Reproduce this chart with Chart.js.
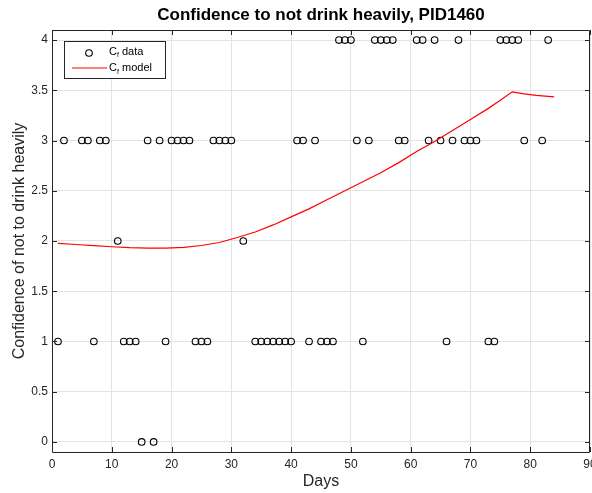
<!DOCTYPE html>
<html>
<head>
<meta charset="utf-8">
<script src="https://cdn.jsdelivr.net/npm/chart.js@4"></script>
<style>
  html, body { margin: 0; padding: 0; background: #fff; }
  #wrap { width: 592px; height: 493px; }
</style>
</head>
<body>
<div id="wrap"><canvas id="chart" width="592" height="493"></canvas></div>
<script>
// observed confidence (days / value)
const obsDays = [1,2,5,6,7,8,9,11,12,13,14,15,16,17,18,19,20,21,22,23,24,25,26,27,28,29,30,32,34,35,36,37,38,39,40,41,42,43,44,45,46,47,48,49,50,51,52,53,54,55,56,57,58,59,61,62,63,64,65,66,67,68,69,70,71,73,74,75,76,77,78,79,82,83];
const obsValues = [1,3,3,3,1,3,3,2,1,1,1,0,3,0,3,1,3,3,3,3,1,1,1,3,3,3,3,2,1,1,1,1,1,1,1,3,3,1,3,1,1,1,4,4,4,3,1,3,4,4,4,4,3,3,4,4,3,4,3,1,3,4,3,3,3,1,1,4,4,4,4,3,3,4];

// model curve
const modelDays = [1,4,7,10,13,16,19,22,25,28,31,34,37,40,43,46,49,52,55,58,61,64,67,70,73,75,77,79,81,84];
const modelValues = [1.977,1.965,1.953,1.943,1.934,1.929,1.929,1.937,1.955,1.985,2.035,2.09,2.16,2.24,2.32,2.41,2.5,2.59,2.68,2.78,2.89,2.99,3.1,3.21,3.32,3.4,3.485,3.465,3.45,3.435];

const xTicks = [0,10,20,30,40,50,60,70,80,90];
const yTicks = [0,0.5,1,1.5,2,2.5,3,3.5,4];

const TITLE = "Confidence to not drink heavily, PID1460";
const FONT = "'Liberation Sans', Arial, Helvetica, sans-serif";
const AXIS_COLOR = "#262626";

// box round the axes with inward ticks, like matlab
const boxPlugin = {
  id: "box",
  afterDatasetsDraw(chart) {
    const { ctx, chartArea: a, scales } = chart;
    ctx.save();
    ctx.strokeStyle = AXIS_COLOR;
    ctx.lineWidth = 1;
    ctx.beginPath();
    ctx.rect(a.left + 0.5, a.top + 0.5, a.right - a.left - 1, a.bottom - a.top);
    xTicks.forEach((v) => {
      const px = Math.round(scales.x.getPixelForValue(v)) + 0.5;
      ctx.moveTo(px, a.bottom);
      ctx.lineTo(px, a.bottom - 5);
      ctx.moveTo(px, a.top);
      ctx.lineTo(px, a.top + 5);
    });
    yTicks.forEach((v) => {
      const py = Math.round(scales.y.getPixelForValue(v)) + 0.5;
      ctx.moveTo(a.left, py);
      ctx.lineTo(a.left + 5, py);
      ctx.moveTo(a.right, py);
      ctx.lineTo(a.right - 5, py);
    });
    ctx.stroke();

    // title, centred over the axes
    ctx.fillStyle = "#000";
    ctx.font = "bold 17px " + FONT;
    ctx.textAlign = "center";
    ctx.textBaseline = "middle";
    ctx.fillText(TITLE, (a.left + a.right) / 2, 15.2);
    ctx.textAlign = "left";

    // legend
    const lx = 64.5, ly = 41.5, lw = 101, lh = 37;
    ctx.fillStyle = "#fff";
    ctx.fillRect(lx, ly, lw, lh);
    ctx.strokeStyle = AXIS_COLOR;
    ctx.strokeRect(lx, ly, lw, lh);

    ctx.beginPath();
    ctx.arc(89, 53, 3.3, 0, Math.PI * 2);
    ctx.strokeStyle = "#000";
    ctx.lineWidth = 1.1;
    ctx.stroke();

    ctx.beginPath();
    ctx.moveTo(72, 68);
    ctx.lineTo(107, 68);
    ctx.strokeStyle = "#ff0000";
    ctx.lineWidth = 1.1;
    ctx.stroke();

    ctx.fillStyle = "#000";
    ctx.textBaseline = "alphabetic";
    const entry = (y, rest) => {
      ctx.font = "11px " + FONT;
      ctx.fillText("C", 109, y);
      const w = ctx.measureText("C").width;
      ctx.font = "7px " + FONT;
      ctx.fillText("f", 109 + w, y + 2.5);
      ctx.font = "11px " + FONT;
      ctx.fillText(rest, 109 + w + 2, y);
    };
    entry(54.5, " data");
    entry(71, " model");
    ctx.restore();
  },
};

new Chart(document.getElementById("chart"), {
  data: {
    datasets: [
      {
        type: "line",
        label: "Cf model",
        data: modelDays.map((d, i) => ({ x: d, y: modelValues[i] })),
        borderColor: "#ff0000",
        borderWidth: 1.2,
        pointRadius: 0,
        tension: 0,
        fill: false,
        order: 0,
      },
      {
        type: "scatter",
        label: "Cf data",
        data: obsDays.map((d, i) => ({ x: d, y: obsValues[i] })),
        pointStyle: "circle",
        pointRadius: 3.3,
        borderColor: "#000",
        borderWidth: 1.1,
        backgroundColor: "rgba(0,0,0,0)",
        order: 1,
      },
    ],
  },
  options: {
    responsive: false,
    animation: false,
    layout: { autoPadding: false, padding: { left: 0, right: 2, top: 30, bottom: 0 } },
    plugins: {
      legend: { display: false },
      tooltip: { enabled: false },
      title: { display: false },
    },
    scales: {
      x: {
        type: "linear",
        min: 0,
        max: 90,
        afterBuildTicks: (scale) => {
          scale.ticks = xTicks.map((v) => ({ value: v }));
        },
        afterFit: (scale) => {
          scale.height = 41;
          scale.paddingLeft = 0;
          scale.paddingRight = 0;
        },
        ticks: {
          color: AXIS_COLOR,
          font: { family: FONT, size: 12 },
          padding: 5,
          maxRotation: 0,
          callback: (v) => String(v),
        },
        grid: { color: "#e3e3e3", drawTicks: false },
        border: { display: false },
        title: {
          display: true,
          text: "Days",
          color: AXIS_COLOR,
          font: { family: FONT, size: 16 },
          padding: { top: 0, bottom: 2 },
        },
      },
      y: {
        type: "linear",
        min: -0.1,
        max: 4.1,
        afterBuildTicks: (scale) => {
          scale.ticks = yTicks.map((v) => ({ value: v }));
        },
        afterFit: (scale) => {
          scale.width = 52;
          scale.paddingTop = 0;
          scale.paddingBottom = 0;
        },
        ticks: {
          color: AXIS_COLOR,
          font: { family: FONT, size: 12 },
          padding: 4,
          callback: (v) => String(v),
        },
        grid: { color: "#e3e3e3", drawTicks: false },
        border: { display: false },
        title: {
          display: true,
          text: "Confidence of not to drink heavily",
          color: AXIS_COLOR,
          font: { family: FONT, size: 16 },
          padding: { top: 10, bottom: 0 },
        },
      },
    },
  },
  plugins: [boxPlugin],
});
</script>
</body>
</html>
